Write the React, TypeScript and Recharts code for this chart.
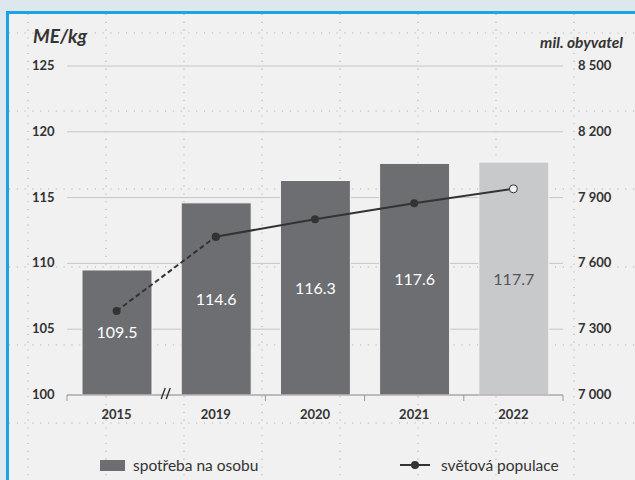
import { Bar, CartesianGrid, Cell, ComposedChart, LabelList, Line, XAxis, YAxis } from 'recharts';

const years = ['2015', '2019', '2020', '2021', '2022'];
const consumption = [109.5, 114.6, 116.3, 117.6, 117.7];
const population = [7383, 7722, 7801, 7874, 7940];
const leftTicks = [100, 105, 110, 115, 120, 125];
const rightTicks = [7000, 7300, 7600, 7900, 8200, 8500];

const W = 635;
const H = 480;
const margin = { top: 66, right: 0, bottom: 55, left: 0 };
const leftW = 67;
const rightW = 72;
const xH = 30;
const axisY = H - margin.bottom - xH;
const band = (W - leftW - rightW) / years.length;

const font = 'Lato, "Open Sans", sans-serif';
const dark = '#6d6e71';
const light = '#c8c9cb';
const lineColor = '#333333';
const panel = '#f1f1f1';

const data = years.map((year, i) => ({
  year,
  consumption: consumption[i],
  popDashed: i <= 1 ? population[i] : null,
  popSolid: i >= 1 ? population[i] : null,
}));

const fmtPop = (v: number) => `${Math.floor(v / 1000)} ${String(v % 1000).padStart(3, '0')}`;

function LeftTick({ y, payload }: any) {
  return (
    <text x={32} y={y} dy={4} fontFamily={font} fontWeight={700} fontSize={13} fill="#333">
      {payload.value}
    </text>
  );
}

function RightTick({ y, payload }: any) {
  return (
    <text x={578} y={y} dy={4} fontFamily={font} fontWeight={700} fontSize={13} fill="#333">
      {fmtPop(payload.value)}
    </text>
  );
}

function YearTick({ x, payload, index }: any) {
  const left = x - band / 2;
  return (
    <g>
      {index === 1 ? (
        <g stroke="#333" strokeWidth={1.4}>
          <line x1={left - 5} y1={axisY + 4} x2={left - 1} y2={axisY - 7} />
          <line x1={left} y1={axisY + 4} x2={left + 4} y2={axisY - 7} />
        </g>
      ) : (
        <line x1={left} y1={axisY} x2={left} y2={axisY + 6} stroke="#999" />
      )}
      {index === years.length - 1 && (
        <line x1={x + band / 2} y1={axisY} x2={x + band / 2} y2={axisY + 6} stroke="#999" />
      )}
      <text x={x} y={axisY + 24} textAnchor="middle" fontFamily={font} fontWeight={700} fontSize={13} fill="#333">
        {payload.value}
      </text>
    </g>
  );
}

function BarLabel({ x, y, width, height, value, index }: any) {
  return (
    <text
      x={x + width / 2}
      y={y + height / 2}
      dy={6}
      textAnchor="middle"
      fontFamily={font}
      fontSize={16}
      fill={index === years.length - 1 ? '#555' : '#fff'}
    >
      {Number(value).toFixed(1)}
    </text>
  );
}

function PopDot({ cx, cy, index }: any) {
  if (cy == null || cx == null) return <g key={index} />;
  const last = index === years.length - 1;
  return (
    <circle
      key={index}
      cx={cx}
      cy={cy}
      r={4}
      fill={last ? panel : lineColor}
      stroke={lineColor}
      strokeWidth={last ? 1 : 0}
    />
  );
}

function DotGrid() {
  const xs = [28, 106, 184, 262, 340, 418, 496, 574];
  const ys = [33, 111, 189, 267, 345, 423];
  return (
    <svg width={W} height={H} style={{ position: 'absolute', left: 0, top: 0 }}>
      {xs.map((x) => (
        <line key={`v${x}`} x1={x} y1={14} x2={x} y2={H} stroke="#b0b0b0" strokeWidth={1.1} strokeDasharray="1.1 6.7" />
      ))}
      {ys.map((y) => (
        <line key={`h${y}`} x1={9} y1={y} x2={W} y2={y} stroke="#b0b0b0" strokeWidth={1.1} strokeDasharray="1.1 6.7" />
      ))}
    </svg>
  );
}

export default function App() {
  return (
    <div style={{ position: 'fixed', left: 0, top: 0, width: W, height: H, background: '#dde8ee', overflow: 'hidden', fontFamily: font }}>
      <div
        style={{
          position: 'absolute',
          left: 6,
          top: 11,
          right: 0,
          bottom: 0,
          background: panel,
          borderLeft: '3px solid #1ba3e3',
          borderTop: '3px solid #1ba3e3',
        }}
      />
      <DotGrid />
      <div style={{ position: 'absolute', left: 0, top: 0 }}>
        <ComposedChart width={W} height={H} data={data} margin={margin}>
          <CartesianGrid yAxisId="left" vertical={false} stroke="#c6c6c6" />
          <XAxis dataKey="year" height={xH} axisLine={{ stroke: '#999' }} tickLine={false} tick={YearTick} interval={0} />
          <YAxis yAxisId="left" width={leftW} domain={[100, 125]} ticks={leftTicks} axisLine={false} tickLine={false} tick={LeftTick} />
          <YAxis
            yAxisId="right"
            orientation="right"
            width={rightW}
            domain={[7000, 8500]}
            ticks={rightTicks}
            axisLine={false}
            tickLine={false}
            tick={RightTick}
          />
          <Bar yAxisId="left" dataKey="consumption" barSize={70} stroke="#f6f6f6" strokeWidth={1} isAnimationActive={false}>
            {data.map((_, i) => (
              <Cell key={i} fill={i === years.length - 1 ? light : dark} />
            ))}
            <LabelList dataKey="consumption" content={BarLabel} />
          </Bar>
          <Line
            yAxisId="right"
            dataKey="popDashed"
            stroke={lineColor}
            strokeWidth={2}
            strokeDasharray="5 3"
            dot={PopDot}
            activeDot={false}
            isAnimationActive={false}
          />
          <Line
            yAxisId="right"
            dataKey="popSolid"
            stroke={lineColor}
            strokeWidth={2}
            dot={PopDot}
            activeDot={false}
            isAnimationActive={false}
          />
        </ComposedChart>
      </div>
      <div style={{ position: 'absolute', left: 33, top: 24, fontSize: 19, fontWeight: 700, fontStyle: 'italic', color: '#333' }}>
        ME/kg
      </div>
      <div style={{ position: 'absolute', right: 12, top: 33, fontSize: 15.5, fontWeight: 700, fontStyle: 'italic', color: '#333' }}>
        mil. obyvatel
      </div>
      <div style={{ position: 'absolute', left: 100, top: 456, display: 'flex', alignItems: 'center', fontSize: 15.5, color: '#333' }}>
        <span style={{ display: 'inline-block', width: 25, height: 11, background: dark, marginRight: 8 }} />
        spotřeba na osobu
      </div>
      <div style={{ position: 'absolute', left: 400, top: 456, display: 'flex', alignItems: 'center', fontSize: 15.5, color: '#333' }}>
        <svg width={30} height={12} style={{ marginRight: 11 }}>
          <line x1={0} y1={6} x2={30} y2={6} stroke={lineColor} strokeWidth={2} />
          <circle cx={15} cy={6} r={4} fill={lineColor} />
        </svg>
        světová populace
      </div>
    </div>
  );
}
